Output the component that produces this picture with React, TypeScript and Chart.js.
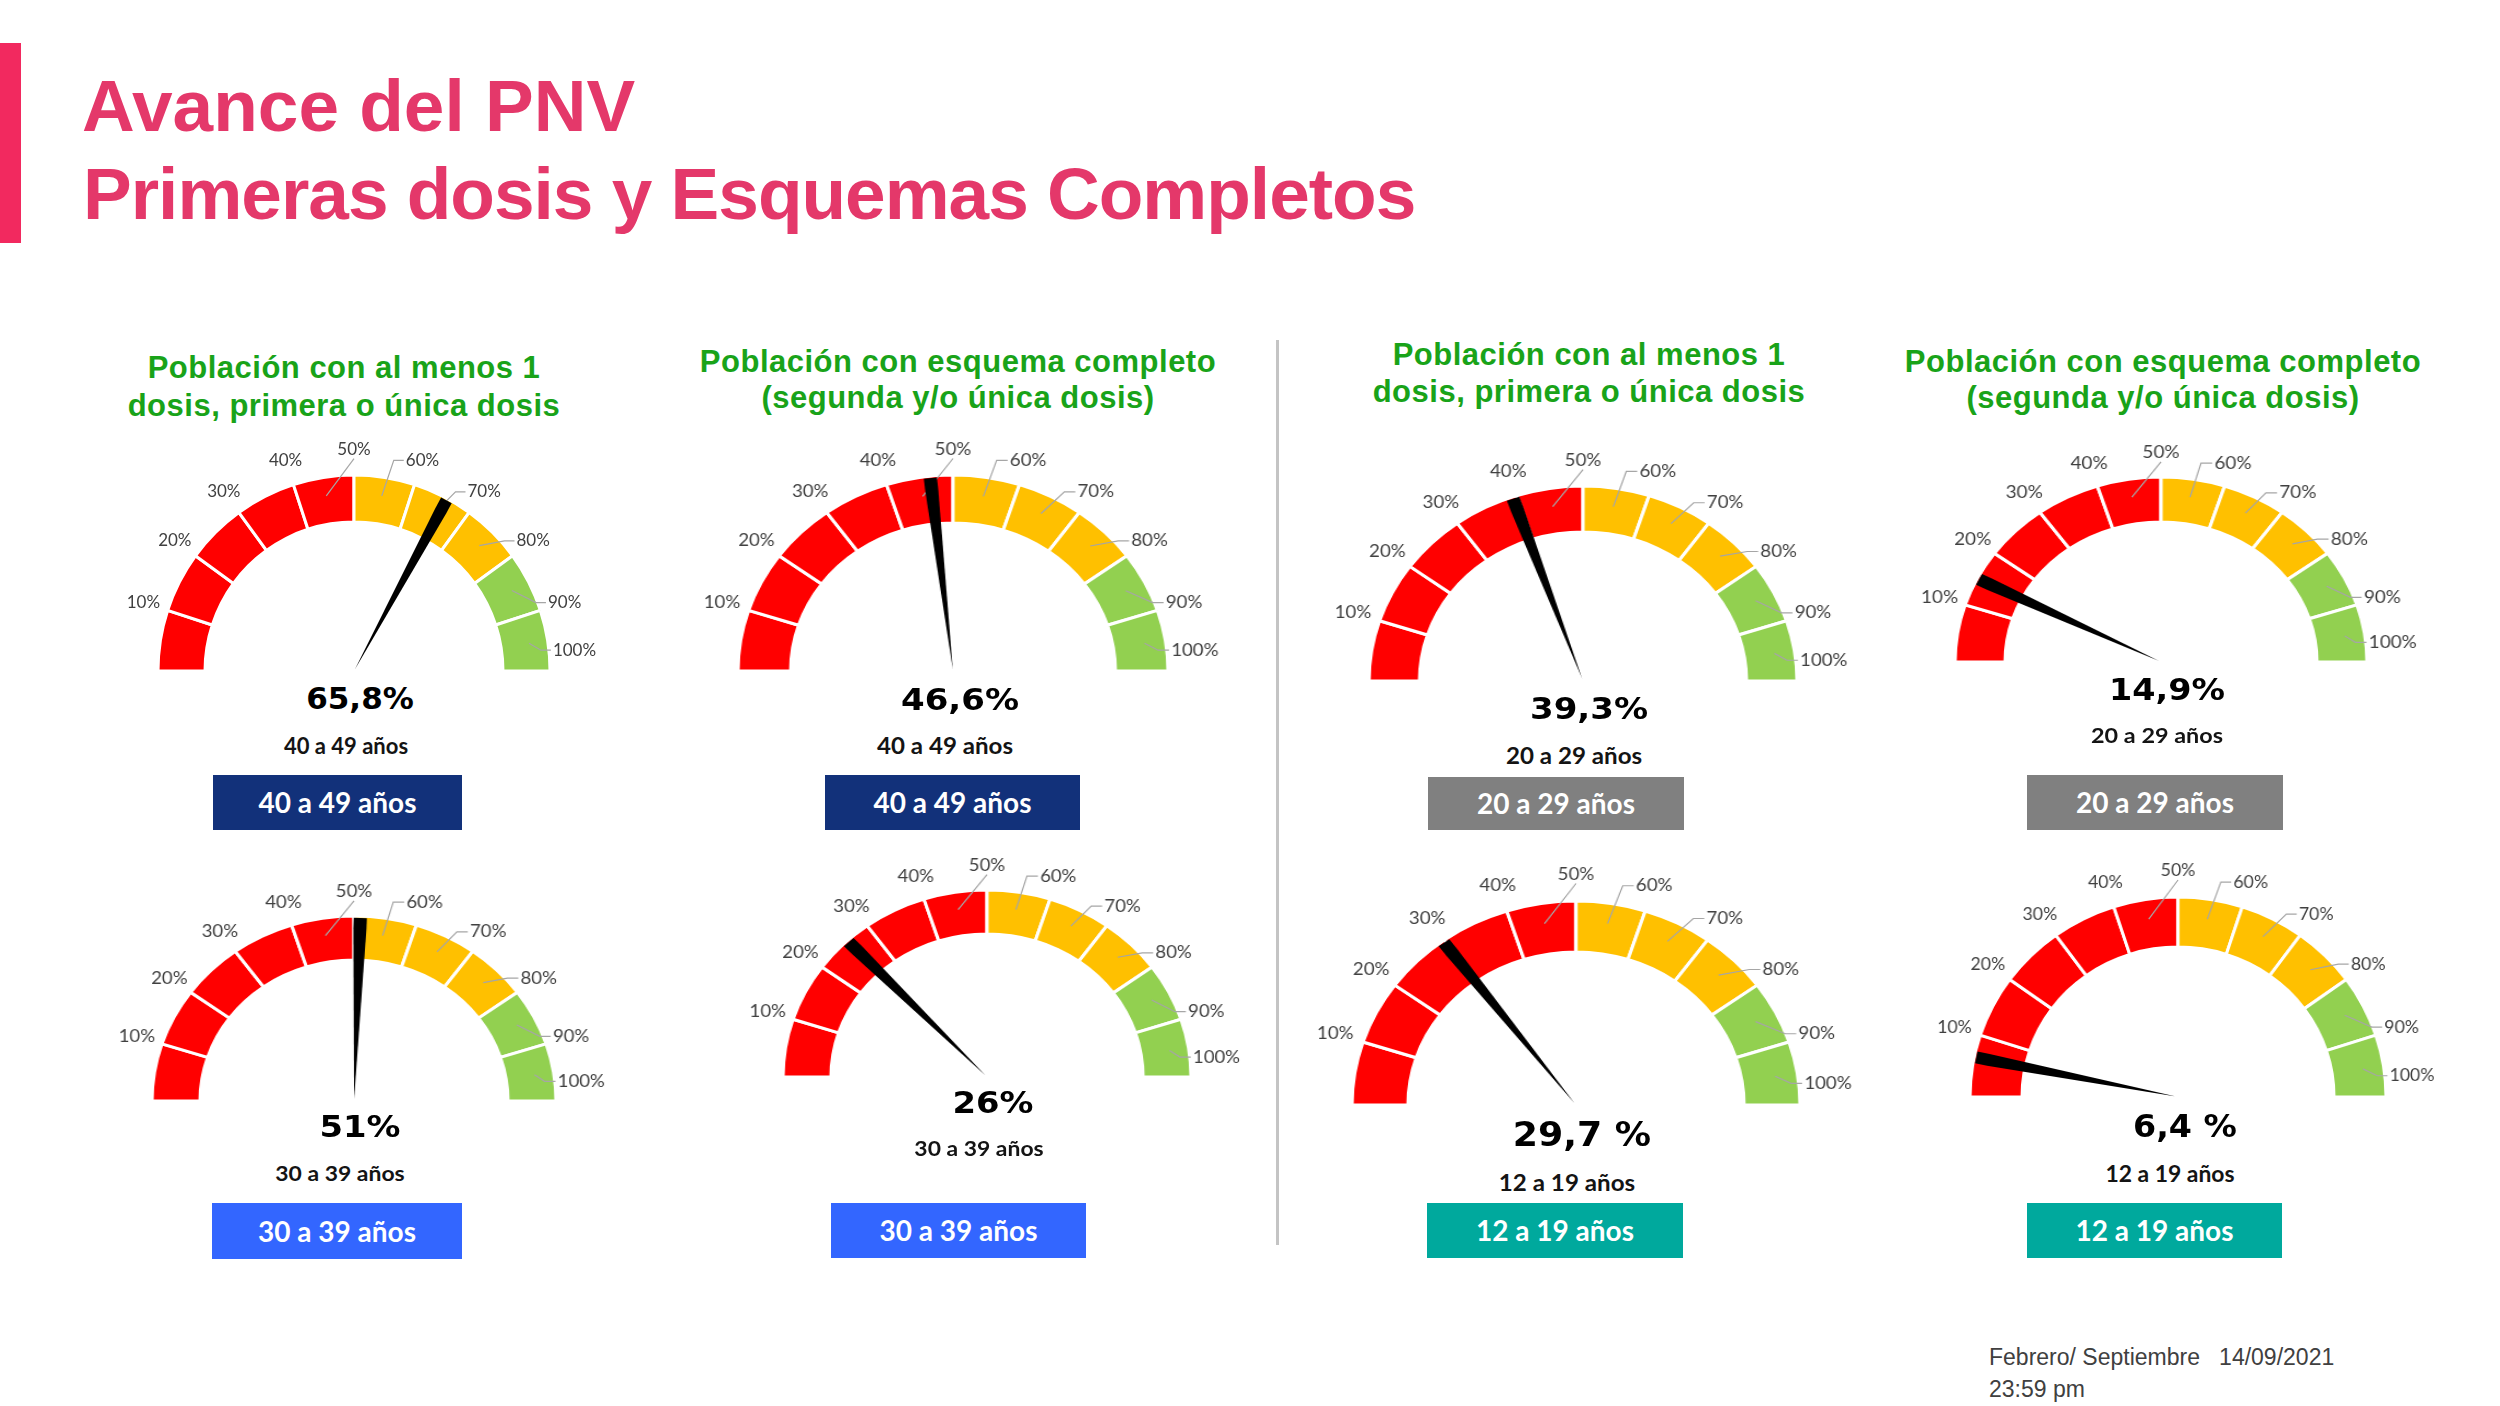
import React, { useEffect, useRef } from "react";
import { Chart, registerables } from "chart.js";

Chart.register(...registerables);

// ---------- data ----------
const bandLabels = ["10%", "20%", "30%", "40%", "50%", "60%", "70%", "80%", "90%", "100%"];
const bandValues = [10, 10, 10, 10, 10, 10, 10, 10, 10, 10];
const bandColors = [
  "#FF0000", "#FF0000", "#FF0000", "#FF0000", "#FF0000",
  "#FFC000", "#FFC000", "#FFC000",
  "#92D050", "#92D050",
];
const gaugeValues = [65.8, 46.6, 39.3, 14.9, 51, 26, 29.7, 6.4];
const valueTexts = ["65,8%", "46,6%", "39,3%", "14,9%", "51%", "26%", "29,7 %", "6,4 %"];
const ageGroups = [
  "40 a 49 años", "40 a 49 años", "20 a 29 años", "20 a 29 años",
  "30 a 39 años", "30 a 39 años", "12 a 19 años", "12 a 19 años",
];
const panelTitles = [
  ["Población con al menos 1", "dosis, primera o única dosis"],
  ["Población con esquema completo", "(segunda y/o única dosis)"],
  ["Población con al menos 1", "dosis, primera o única dosis"],
  ["Población con esquema completo", "(segunda y/o única dosis)"],
];
const mainTitle = ["Avance del PNV", "Primeras dosis y Esquemas Completos"];
const footerLines = ["Febrero/ Septiembre   14/09/2021", "23:59 pm"];

// ---------- layout ----------
const gaugeLayout = [
  { cx: 354, cy: 671, rx: 196, ry: 196, t: 47 },
  { cx: 953, cy: 671, rx: 215, ry: 196, t: 48 },
  { cx: 1583, cy: 681, rx: 214, ry: 195, t: 46 },
  { cx: 2161, cy: 662, rx: 206, ry: 185, t: 45 },
  { cx: 354, cy: 1101, rx: 202, ry: 185, t: 44 },
  { cx: 987, cy: 1077, rx: 204, ry: 187, t: 44 },
  { cx: 1576, cy: 1105, rx: 224, ry: 204, t: 51 },
  { cx: 2178, cy: 1097, rx: 208, ry: 200, t: 50 },
];
const valueLayout = [
  { x: 360, y: 709, s: 31 },
  { x: 960, y: 710, s: 31 },
  { x: 1589, y: 719, s: 31 },
  { x: 2167, y: 700, s: 30 },
  { x: 360, y: 1137, s: 31 },
  { x: 993, y: 1113, s: 31 },
  { x: 1582, y: 1146, s: 33 },
  { x: 2185, y: 1137, s: 32 },
];
const ageLayout = [
  { x: 346, y: 755, s: 22 },
  { x: 945, y: 755, s: 22 },
  { x: 1574, y: 765, s: 22 },
  { x: 2157, y: 743, s: 21 },
  { x: 340, y: 1181, s: 21 },
  { x: 979, y: 1156, s: 21 },
  { x: 1567, y: 1192, s: 22 },
  { x: 2170, y: 1183, s: 22 },
];
const boxLayout = [
  { x: 213, y: 775, w: 249, h: 55, c: "#12317A" },
  { x: 825, y: 775, w: 255, h: 55, c: "#12317A" },
  { x: 1428, y: 777, w: 256, h: 53, c: "#808080" },
  { x: 2027, y: 775, w: 256, h: 55, c: "#808080" },
  { x: 212, y: 1203, w: 250, h: 56, c: "#3366FF" },
  { x: 831, y: 1203, w: 255, h: 55, c: "#3366FF" },
  { x: 1427, y: 1203, w: 256, h: 55, c: "#00A99D" },
  { x: 2027, y: 1203, w: 255, h: 55, c: "#00A99D" },
];
const titleLayout = [
  { x: 344, y1: 378, y2: 416 },
  { x: 958, y1: 372, y2: 408 },
  { x: 1589, y1: 365, y2: 402 },
  { x: 2163, y1: 372, y2: 408 },
];

const LATO = "Lato, 'Noto Sans', sans-serif";
const ARIAL = "'Liberation Sans', Arial, sans-serif";
const DEJAVU = "'DejaVu Sans', sans-serif";

// ---------- gauge plugin ----------
const gaugePlugin = {
  id: "gaugeExtras",
  afterDatasetsDraw(chart: any, _args: any, opts: any) {
    const ctx: CanvasRenderingContext2D = chart.ctx;
    const meta = chart.getDatasetMeta(0);
    const arcs = meta.data;
    if (!arcs.length) return;
    const p0 = arcs[0].getProps(["x", "y", "outerRadius", "innerRadius"], true);
    const cx = p0.x, cy = p0.y, R = p0.outerRadius, r = p0.innerRadius;
    const labels: string[] = chart.data.labels;
    ctx.save();
    ctx.font = "17px Lato, 'Noto Sans', sans-serif";
    ctx.textAlign = "center";
    ctx.textBaseline = "middle";
    const maxA = -0.03 * Math.PI;
    arcs.forEach((arc: any, i: number) => {
      const { startAngle, endAngle } = arc.getProps(["startAngle", "endAngle"], true);
      const a = Math.min(endAngle, maxA);
      const lr = R * 1.13;
      const lx = cx + Math.cos(a) * lr;
      const ly = cy + Math.sin(a) * lr;
      const text = labels[i];
      ctx.fillStyle = "#404040";
      ctx.fillText(text, lx, ly);
      if (i >= 4) {
        const mid = (startAngle + endAngle) / 2;
        const mr = (R + r) / 2 + (R - r) * 0.1;
        const sx = cx + Math.cos(mid) * mr;
        const sy = cy + Math.sin(mid) * mr;
        const tw = ctx.measureText(text).width;
        ctx.strokeStyle = "#A6A6A6";
        ctx.lineWidth = 1.2;
        ctx.beginPath();
        ctx.moveTo(sx, sy);
        if (i === 4) {
          ctx.lineTo(lx, ly + 9);
        } else {
          const ex = lx - tw / 2 - 2;
          ctx.lineTo(ex - 10, ly);
          ctx.lineTo(ex, ly);
        }
        ctx.stroke();
      }
    });
    // needle
    const v = opts.value as number;
    const ang = -Math.PI + Math.PI * (v / 100);
    const len = R * 0.99;
    const hw = 6;
    const bx = cx + Math.cos(ang) * len;
    const by = cy + Math.sin(ang) * len;
    const nx = -Math.sin(ang), ny = Math.cos(ang);
    const ix = cx + Math.cos(ang) * len * 0.94;
    const iy = cy + Math.sin(ang) * len * 0.94;
    ctx.fillStyle = "#000000";
    ctx.beginPath();
    ctx.moveTo(cx + Math.cos(ang) * 2, cy + Math.sin(ang) * 2);
    ctx.lineTo(ix + nx * hw, iy + ny * hw);
    ctx.lineTo(bx + nx * hw, by + ny * hw);
    ctx.lineTo(bx - nx * hw, by - ny * hw);
    ctx.lineTo(ix - nx * hw, iy - ny * hw);
    ctx.closePath();
    ctx.fill();
    ctx.restore();
  },
};

function Gauge({ idx }: { idx: number }) {
  const ref = useRef<HTMLCanvasElement>(null);
  const g = gaugeLayout[idx];
  const R = g.ry;
  const padX = Math.round(R * 0.42);
  const padT = Math.round(R * 0.3);
  const padB = 8;
  const W = 2 * R + 2 * padX;
  const H = R + padT + padB;
  useEffect(() => {
    if (!ref.current) return;
    const chart = new Chart(ref.current, {
      type: "doughnut",
      data: {
        labels: bandLabels,
        datasets: [
          {
            data: bandValues,
            backgroundColor: bandColors,
            borderColor: "#FFFFFF",
            borderWidth: 3,
            hoverOffset: 0,
          },
        ],
      },
      options: {
        responsive: false,
        animation: false,
        events: [],
        rotation: -90,
        circumference: 180,
        radius: R,
        cutout: `${(1 - g.t / R) * 100}%`,
        layout: { padding: { left: padX, right: padX, top: padT, bottom: padB } },
        plugins: {
          legend: { display: false },
          tooltip: { enabled: false },
          // @ts-ignore
          gaugeExtras: { value: gaugeValues[idx] },
        },
      } as any,
      plugins: [gaugePlugin as any],
    });
    return () => chart.destroy();
  }, []);
  return (
    <div
      style={{
        position: "absolute",
        left: g.cx - W / 2,
        top: g.cy - R - padT,
        width: W,
        height: H,
        transform: `scaleX(${g.rx / g.ry})`,
        transformOrigin: "50% 50%",
      }}
    >
      <canvas ref={ref} width={W} height={H} style={{ display: "block", width: W, height: H }} />
    </div>
  );
}

type TxtProps = {
  x: number;
  y: number;
  size: number;
  family: string;
  ratio: number;
  color: string;
  weight?: number;
  align?: "left" | "center";
  sx?: number;
  ls?: number;
  children: React.ReactNode;
};

function Txt({ x, y, size, family, ratio, color, weight = 400, align = "center", sx = 1, ls = 0, children }: TxtProps) {
  const center = align === "center";
  return (
    <div
      style={{
        position: "absolute",
        left: center ? x - 700 : x,
        top: y - ratio * size,
        width: center ? 1400 : undefined,
        textAlign: align,
        fontSize: size,
        lineHeight: `${size}px`,
        fontFamily: family,
        fontWeight: weight,
        color,
        whiteSpace: "pre",
        letterSpacing: ls,
        transform: sx !== 1 ? `scaleX(${sx})` : undefined,
        transformOrigin: "50% 50%",
      }}
    >
      {children}
    </div>
  );
}

export default function App() {
  return (
    <div
      style={{
        position: "absolute",
        left: 0,
        top: 0,
        width: 2500,
        height: 1406,
        overflow: "hidden",
        background: "#FFFFFF",
      }}
    >
      {/* accent bar */}
      <div style={{ position: "absolute", left: 0, top: 43, width: 21, height: 200, background: "#F2295F" }} />
      <Txt x={82} y={131} size={73} family={ARIAL} ratio={0.8465} color="#E4386A" weight={700} align="left">
        {mainTitle[0]}
      </Txt>
      <Txt x={83} y={219} size={73} family={ARIAL} ratio={0.8465} color="#E4386A" weight={700} align="left" ls={-1}>
        {mainTitle[1]}
      </Txt>

      {/* divider */}
      <div style={{ position: "absolute", left: 1276, top: 340, width: 3, height: 905, background: "#C4C4C4" }} />

      {titleLayout.map((t, i) => (
        <React.Fragment key={"t" + i}>
          <Txt x={t.x} y={t.y1} size={31} family={ARIAL} ratio={0.8465} color="#19A319" weight={700} ls={0.5}>
            {panelTitles[i][0]}
          </Txt>
          <Txt x={t.x} y={t.y2} size={31} family={ARIAL} ratio={0.8465} color="#19A319" weight={700} ls={0.5}>
            {panelTitles[i][1]}
          </Txt>
        </React.Fragment>
      ))}

      {gaugeLayout.map((_, i) => (
        <Gauge key={"g" + i} idx={i} />
      ))}

      {valueLayout.map((v, i) => (
        <Txt
          key={"v" + i}
          x={v.x}
          y={v.y}
          size={v.s}
          family={DEJAVU}
          ratio={0.846}
          color="#000000"
          weight={700}
          sx={gaugeLayout[i].rx / gaugeLayout[i].ry}
        >
          {valueTexts[i]}
        </Txt>
      ))}

      {ageLayout.map((a, i) => (
        <Txt
          key={"a" + i}
          x={a.x}
          y={a.y}
          size={a.s}
          family={LATO}
          ratio={0.887}
          color="#141414"
          weight={700}
          sx={gaugeLayout[i].rx / gaugeLayout[i].ry}
        >
          {ageGroups[i]}
        </Txt>
      ))}

      {boxLayout.map((b, i) => (
        <div
          key={"b" + i}
          style={{
            position: "absolute",
            left: b.x,
            top: b.y,
            width: b.w,
            height: b.h,
            background: b.c,
            color: "#FFFFFF",
            fontFamily: LATO,
            fontWeight: 700,
            fontSize: 28,
            lineHeight: `${b.h}px`,
            textAlign: "center",
            whiteSpace: "pre",
          }}
        >
          {ageGroups[i]}
        </div>
      ))}

      <Txt x={1989} y={1365} size={23} family={ARIAL} ratio={0.8465} color="#404040" align="left">
        {footerLines[0]}
      </Txt>
      <Txt x={1989} y={1397} size={23} family={ARIAL} ratio={0.8465} color="#404040" align="left">
        {footerLines[1]}
      </Txt>
    </div>
  );
}
